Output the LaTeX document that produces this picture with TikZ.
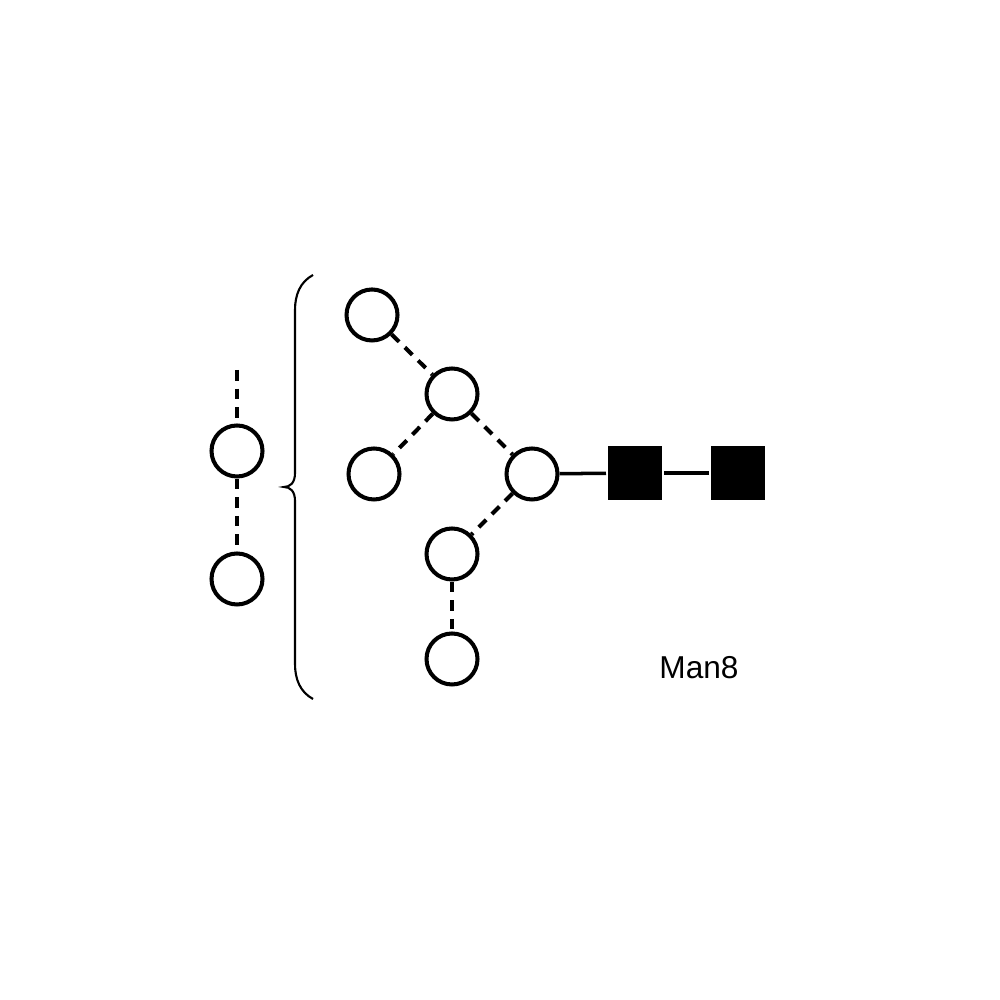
\documentclass[tikz,border=0pt]{standalone}
\usepackage{fontspec}
\setmainfont{Liberation Sans}
\begin{document}
\begin{tikzpicture}[line width=1.15pt,
  man/.style={circle, draw, fill=white, inner sep=0pt, minimum size=5.1mm},
  glcnac/.style={rectangle, fill=black, inner sep=0pt, minimum size=5.4mm},
  link/.style={dash pattern=on 3pt off 2.3pt}]
  \useasboundingbox (0,0) rectangle (10,10);
  % repeating unit on the left
  \coordinate (up) at (2.37,6.30);
  \node[man] (r1) at (2.37,5.49) {};
  \node[man] (r2) at (2.37,4.21) {};
  \draw[link] (up) -- (r1);
  \draw[link] (r1) -- (r2);
  \draw[line width=0.6pt] (3.13,7.25) .. controls (3.00,7.18) and (2.95,7.05) .. (2.95,6.90) -- (2.95,5.27)
    .. controls (2.95,5.17) and (2.90,5.13) .. (2.84,5.13)
    .. controls (2.90,5.13) and (2.95,5.09) .. (2.95,4.99) -- (2.95,3.36)
    .. controls (2.95,3.21) and (3.00,3.08) .. (3.13,3.01);
  % Man8 glycan
  \node[man] (m1) at (3.72,6.85) {};
  \node[man] (m2) at (4.52,6.06) {};
  \node[man] (m3) at (3.74,5.26) {};
  \node[man] (m4) at (5.32,5.26) {};
  \node[man] (m5) at (4.52,4.46) {};
  \node[man] (m6) at (4.52,3.41) {};
  \node[glcnac] (g1) at (6.35,5.27) {};
  \node[glcnac] (g2) at (7.38,5.27) {};
  \draw[link] (m1) -- (m2);
  \draw[link] (m2) -- (m3);
  \draw[link] (m2) -- (m4);
  \draw[link] (m4) -- (m5);
  \draw[link] (m5) -- (m6);
  \draw[line width=1pt] (m4) -- (g1);
  \draw[line width=1pt] (g1) -- (g2);
  \node[font=\fontsize{9}{11}\selectfont, inner sep=0pt] (name) at (6.99,3.32) {Man8};
\end{tikzpicture}
\end{document}
